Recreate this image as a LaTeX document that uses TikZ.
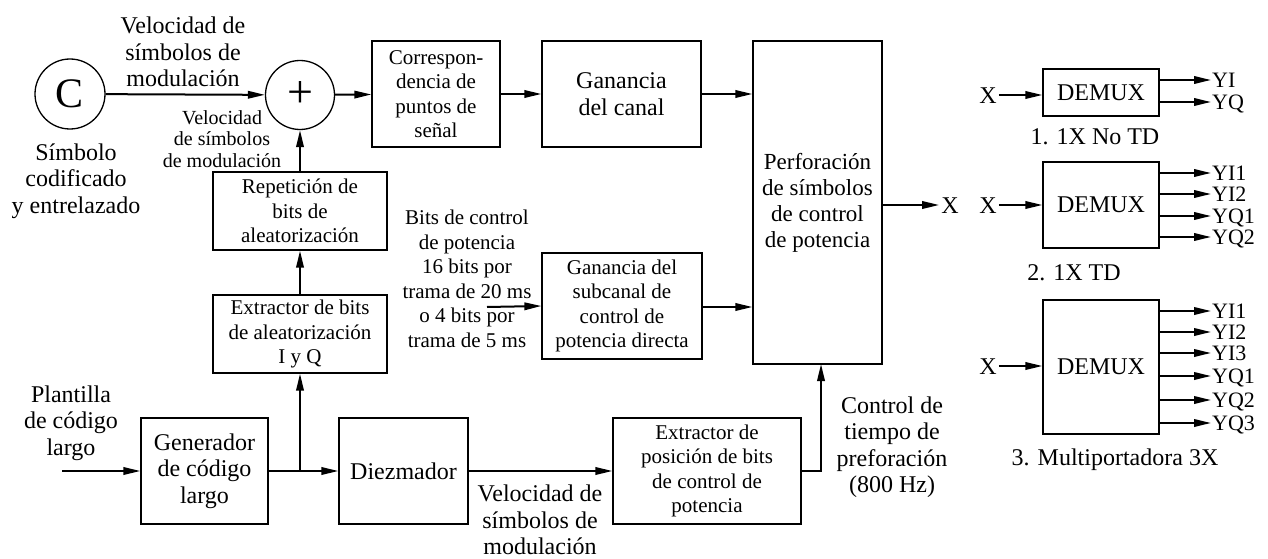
\documentclass[tikz,border=0pt]{standalone}
\usepackage{fontspec}
\setmainfont{Liberation Serif}
\usetikzlibrary{arrows.meta,calc}
\begin{document}
\begin{tikzpicture}[x=1pt,y=-1pt,
  bigf/.style={font=\fontsize{24}{26.5}\selectfont},
  smallf/.style={font=\fontsize{21}{24.5}\selectfont},
  tinyf/.style={font=\fontsize{20}{21.5}\selectfont},
  box/.style={draw, line width=1.3pt, align=center, inner sep=0pt},
  lbl/.style={align=center, inner sep=0pt},
  xlbl/.style={bigf, inner sep=2pt, text height=16pt, text depth=0pt},
  ylbl/.style={font=\fontsize{22}{22}\selectfont, inner sep=1pt, text height=15pt, text depth=0pt, anchor=west},
  arr/.style={line width=2pt, -{Triangle[length=17pt,width=7.5pt]}},
  ln/.style={line width=2pt}]
\useasboundingbox (0,0) rectangle (1268,559);

% circles
\node[draw, circle, line width=1.3pt, minimum size=70pt, inner sep=0pt, font=\fontsize{42}{42}\selectfont] (C) at (70,94) {C};
\node[draw, circle, line width=1.3pt, minimum size=69pt, inner sep=0pt, font=\fontsize{46}{46}\selectfont] (plus) at (300,95) {+};

% boxes
\node[box, smallf, minimum width=128pt, minimum height=106pt] (corr) at (436,94) {Correspon-\\dencia de\\puntos de\\señal};
\node[box, bigf, minimum width=159pt, minimum height=106pt] (gcan) at (621.5,94) {Ganancia\\del canal};
\node[box, font=\fontsize{23}{26}\selectfont, minimum width=129pt, minimum height=323pt] (perf) at (817.5,202.5) {Perforación\\de símbolos\\de control\\de potencia};
\node[box, smallf, minimum width=174pt, minimum height=78pt] (rep) at (300,211) {Repetición de\\bits de\\aleatorización};
\node[box, smallf, minimum width=174pt, minimum height=78pt] (ext) at (300,334) {Extractor de bits\\de aleatorización\\I y Q};
\node[box, smallf, minimum width=160pt, minimum height=106pt] (gsub) at (622,306) {Ganancia del\\subcanal de\\control de\\potencia directa};
\node[box, bigf, minimum width=127pt, minimum height=106pt] (gen) at (204.5,471) {Generador\\de código\\largo};
\node[box, bigf, minimum width=129pt, minimum height=106pt] (diez) at (403.5,471) {Diezmador};
\node[box, smallf, minimum width=188pt, minimum height=106pt] (expos) at (707,471) {Extractor de\\posición de bits\\de control de\\potencia};

% labels
\node[lbl, bigf] (topL) at (183,52) {Velocidad de\\símbolos de\\modulación};
\node[lbl, tinyf] (smallL) at (222,139) {Velocidad\\de símbolos\\de modulación};
\node[lbl, bigf] (simbL) at (76,181) {Símbolo\\codificado\\y entrelazado};
\node[lbl, bigf] (plantL) at (71,423) {Plantilla\\de código\\largo};
\node[lbl, smallf] (bitsL) at (467,279) {Bits de control\\de potencia\\16 bits por\\trama de 20 ms\\o 4 bits por\\trama de 5 ms};
\node[lbl, bigf] (velL) at (540,520) {Velocidad de\\símbolos de\\modulación};
\node[lbl, bigf] (ctrlL) at (892,447) {Control de\\tiempo de\\preforación\\(800 Hz)};

% coordinates
\coordinate (pin) at (62,471);
\coordinate (j) at (300,471);
\coordinate (bin) at (487,307);
\coordinate (pc) at (821,364);

% connectors
\draw[arr] (C) -- (plus);
\draw[arr] (plus) -- (corr);
\draw[arr] (corr) -- (gcan);
\draw[arr] (gcan.east) -- (gcan.east -| perf.west);
\draw[arr] (rep.north) -- (plus.south);
\draw[arr] (ext.north) -- (rep.south);
\draw[arr] (pin) -- (gen.west);
\draw[ln] (gen.east) -- (j);
\draw[arr] (j) -- (ext.south);
\draw[arr] (j) -- (diez.west);
\draw[arr] (diez.east) -- (expos.west);
\draw[arr] (expos.east) -| (pc);
\draw[arr] (bin) -- (gsub.west);
\draw[arr] (gsub.east |- bin) -- (bin -| perf.west);

% output X
\node[xlbl] (xout) at (950,205) {X};
\draw[arr] (xout -| perf.east) -- (xout.west);

% DEMUX 1
\node[box, bigf, minimum width=116pt, minimum height=47pt] (dm1) at (1101,92.5) {DEMUX};
\node[xlbl] (x1) at (988,95) {X};
\draw[arr] (x1.east) -- (x1.east -| dm1.west);
\node[ylbl] (y1a) at (1211,80) {YI};
\node[ylbl] (y1b) at (1211,102) {YQ};
\foreach \n in {y1a,y1b} \draw[arr] (dm1.east |- \n.west) -- (\n.west);
\node[lbl, bigf] (cap1) at (1095,137) {1. 1X No TD};

% DEMUX 2
\node[box, bigf, minimum width=116pt, minimum height=86pt] (dm2) at (1101,205) {DEMUX};
\node[xlbl] (x2) at (988,205) {X};
\draw[arr] (x2.east) -- (x2.east -| dm2.west);
\node[ylbl] (y2a) at (1211,173) {YI1};
\node[ylbl] (y2b) at (1211,194) {YI2};
\node[ylbl] (y2c) at (1211,216) {YQ1};
\node[ylbl] (y2d) at (1211,237) {YQ2};
\foreach \n in {y2a,y2b,y2c,y2d} \draw[arr] (dm2.east |- \n.west) -- (\n.west);
\node[lbl, bigf] (cap2) at (1074,273) {2. 1X TD};

% DEMUX 3
\node[box, bigf, minimum width=116pt, minimum height=134pt] (dm3) at (1101,367) {DEMUX};
\node[xlbl] (x3) at (988,366) {X};
\draw[arr] (x3.east) -- (x3.east -| dm3.west);
\node[ylbl] (y3a) at (1211,311) {YI1};
\node[ylbl] (y3b) at (1211,332) {YI2};
\node[ylbl] (y3c) at (1211,353) {YI3};
\node[ylbl] (y3d) at (1211,376) {YQ1};
\node[ylbl] (y3e) at (1211,400) {YQ2};
\node[ylbl] (y3f) at (1211,423) {YQ3};
\foreach \n in {y3a,y3b,y3c,y3d,y3e,y3f} \draw[arr] (dm3.east |- \n.west) -- (\n.west);
\node[lbl, bigf] (cap3) at (1115,460) {3. Multiportadora 3X};
\end{tikzpicture}
\end{document}
